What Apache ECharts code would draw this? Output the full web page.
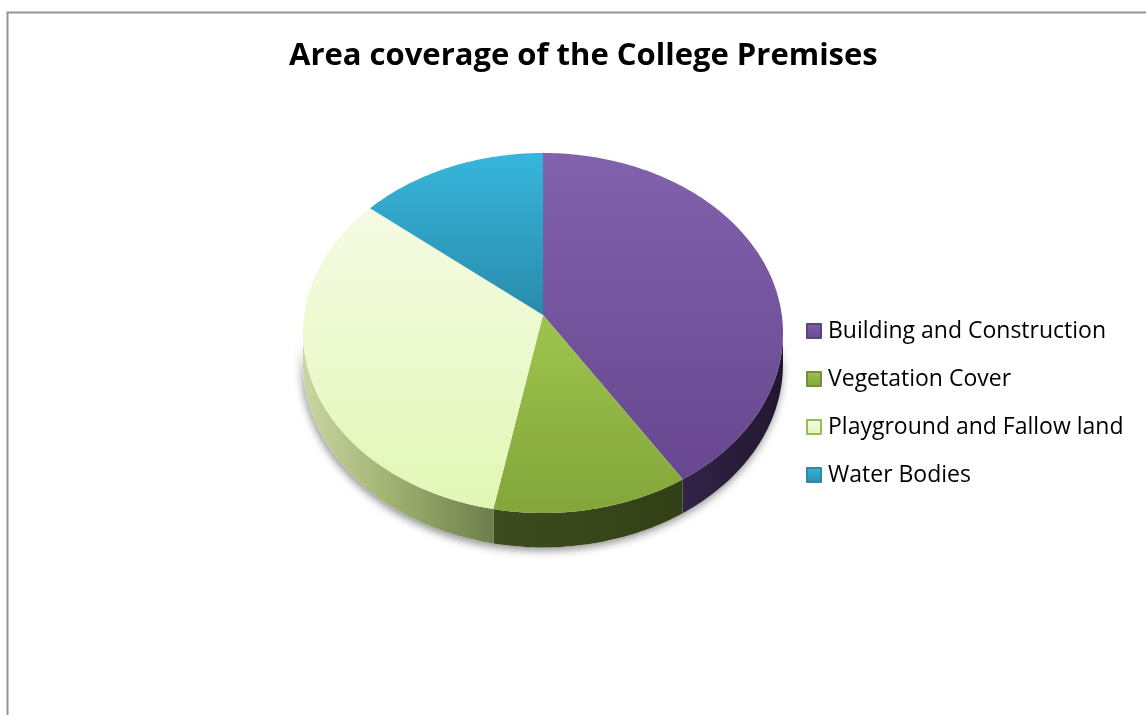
<!DOCTYPE html>
<html>
<head>
<meta charset="utf-8">
<script src="https://cdn.jsdelivr.net/npm/echarts@6/dist/echarts.min.js"></script>
<style>
  html, body { margin: 0; padding: 0; background: #ffffff; }
  #chart { width: 1146px; height: 715px; }
</style>
</head>
<body>
<div id="chart"></div>
<script>
// Land-use shares of the college campus (percent of total area)
const categories = [
  'Building and Construction',
  'Vegetation Cover',
  'Playground and Fallow land',
  'Water Bodies'
];
const areaShares = [41, 12, 33, 14];
const chartTitle = 'Area coverage of the College Premises';

// Colour styling per slice
const topFaceColors = [
  ['#8261AD', '#684790'],
  ['#9EC44D', '#83A53A'],
  ['#F5FBE4', '#E1F7B5'],
  ['#37B6DC', '#298BAB']
];
const wallColorStops = [
  [[0, '#4A3868'], [0.75, '#35264C'], [1, '#22172F']],
  [[0, '#55682B'], [0.4, '#3D4C1E'], [0.85, '#313E15'], [1, '#2A3512']],
  [[0, '#C9D6A2'], [0.18, '#A1B372'], [0.4, '#6C7D4A'], [1, '#4B5830']],
  [[0, '#2E7F99'], [1, '#1C4E5E']]
];
const legendBorders = ['#5F437F', '#71903A', '#9BBB59', '#2A8AA8'];

// Geometry of the tilted, extruded disc
const PIE = { cx: 543, cy: 315, rx: 238.8, ry: 178.2, persp: 0.1, depth: 31 };
const total = areaShares.reduce((a, b) => a + b, 0);
const TAU = Math.PI * 2;

function project(theta, lift) {
  const u = Math.sin(theta);
  const v = -Math.cos(theta);
  const w = 1 - PIE.persp * v;
  return [PIE.cx + PIE.rx * u / w, PIE.cy + PIE.ry * v / w + PIE.depth * lift / w];
}
function arc(t0, t1, lift) {
  const pts = [];
  const n = Math.max(2, Math.ceil((t1 - t0) / (Math.PI / 180)));
  for (let i = 0; i <= n; i++) pts.push(project(t0 + (t1 - t0) * i / n, lift));
  return pts;
}
// rim is visible between the two silhouette angles (front half)
const silhouette = Math.acos(-PIE.persp);
const frontStart = silhouette;
const frontEnd = TAU - silhouette;
const leftX = PIE.cx - PIE.rx / Math.sqrt(1 - PIE.persp * PIE.persp);
const rightX = PIE.cx + PIE.rx / Math.sqrt(1 - PIE.persp * PIE.persp);

function stops(list) {
  return list.map(s => ({ offset: s[0], color: s[1] }));
}

function renderSlice(params, api) {
  const i = params.dataIndex;
  let before = 0;
  for (let j = 0; j < i; j++) before += areaShares[j];
  const t0 = before / total * TAU;
  const t1 = (before + api.value(0)) / total * TAU;
  const children = [];

  if (i === 0) {
    // soft drop shadow under the whole rim
    const band = arc(frontStart, frontEnd, 0).concat(arc(frontStart, frontEnd, 1).reverse());
    children.push({
      type: 'polygon', z2: 0, silent: true,
      shape: { points: band },
      style: { fill: '#ffffff', shadowBlur: 9, shadowColor: 'rgba(0,0,0,0.45)', shadowOffsetY: 3, shadowOffsetX: -1 }
    });
  }

  const a = Math.max(t0, frontStart);
  const b = Math.min(t1, frontEnd);
  if (b > a) {
    const wall = arc(a, b, 0).concat(arc(a, b, 1).reverse());
    children.push({
      type: 'polygon', z2: 1,
      shape: { points: wall },
      style: {
        fill: new echarts.graphic.LinearGradient(leftX, 0, rightX, 0, stops(wallColorStops[i]), true),
        stroke: null
      }
    });
  }

  const top = [[PIE.cx, PIE.cy]].concat(arc(t0, t1, 0));
  children.push({
    type: 'polygon', z2: 2,
    shape: { points: top },
    style: {
      fill: new echarts.graphic.LinearGradient(0, 0, 0, 1, [
        { offset: 0, color: topFaceColors[i][0] },
        { offset: 1, color: topFaceColors[i][1] }
      ]),
      stroke: null
    }
  });
  return { type: 'group', children: children };
}

const chart = echarts.init(document.getElementById('chart'), null, { renderer: 'canvas' });

chart.setOption({
  animation: false,
  backgroundColor: '#ffffff',
  title: {
    text: chartTitle,
    left: 284,
    top: 36,
    textStyle: { fontFamily: 'Open Sans', fontWeight: 'bold', fontSize: 31, color: '#000000' }
  },
  legend: {
    orient: 'vertical',
    left: 801,
    top: 314,
    icon: 'rect',
    itemWidth: 14,
    itemHeight: 14,
    itemGap: 24,
    selectedMode: false,
    data: categories,
    textStyle: { fontFamily: 'Open Sans', fontSize: 23, color: '#000000', lineHeight: 24, padding: [0, 0, 0, 2] }
  },
  graphic: [{
    type: 'rect', silent: true, z: -1,
    shape: { x: 7.5, y: 12.5, width: 1200, height: 800 },
    style: { fill: 'none', stroke: '#959595', lineWidth: 2 }
  }],
  series: [
    {
      type: 'custom',
      name: 'Area coverage',
      coordinateSystem: 'none',
      renderItem: renderSlice,
      data: areaShares.map((v, i) => ({ name: categories[i], value: v }))
    },
    {
      // supplies the per-category legend entries
      type: 'pie',
      name: 'Legend',
      silent: true,
      radius: 0,
      center: [0, 0],
      label: { show: false },
      labelLine: { show: false },
      data: areaShares.map((v, i) => ({
        name: categories[i],
        value: v,
        itemStyle: {
          color: new echarts.graphic.LinearGradient(0, 0, 0, 1, [
            { offset: 0, color: topFaceColors[i][0] },
            { offset: 1, color: topFaceColors[i][1] }
          ]),
          borderColor: legendBorders[i],
          borderWidth: 1
        }
      }))
    }
  ]
});
</script>
</body>
</html>
